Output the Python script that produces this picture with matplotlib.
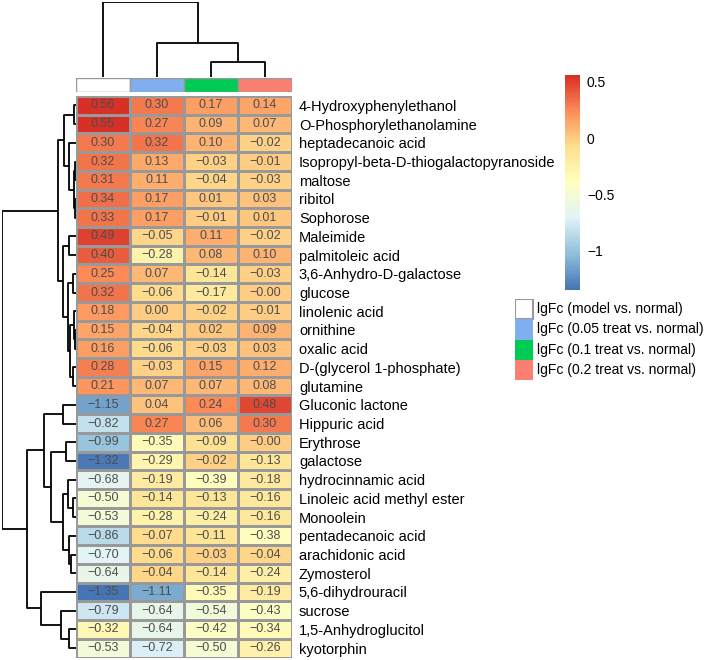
import numpy as np
import matplotlib
matplotlib.use("Agg")
import matplotlib.pyplot as plt
from matplotlib.colors import LinearSegmentedColormap, Normalize
from matplotlib.patches import Rectangle

plt.rcParams['font.family'] = ['Liberation Sans', 'DejaVu Sans']

metabolites = ["4-Hydroxyphenylethanol", "O-Phosphorylethanolamine", "heptadecanoic acid",
               "Isopropyl-beta-D-thiogalactopyranoside", "maltose", "ribitol", "Sophorose",
               "Maleimide", "palmitoleic acid", "3,6-Anhydro-D-galactose", "glucose",
               "linolenic acid", "ornithine", "oxalic acid", "D-(glycerol 1-phosphate)",
               "glutamine", "Gluconic lactone", "Hippuric acid", "Erythrose", "galactose",
               "hydrocinnamic acid", "Linoleic acid methyl ester", "Monoolein",
               "pentadecanoic acid", "arachidonic acid", "Zymosterol", "5,6-dihydrouracil",
               "sucrose", "1,5-Anhydroglucitol", "kyotorphin"]

groups = ["lgFc (model vs. normal)", "lgFc (0.05 treat vs. normal)",
          "lgFc (0.1 treat vs. normal)", "lgFc (0.2 treat vs. normal)"]
group_colors = ["#FFFFFF", "#7FAFEF", "#00CC55", "#FA8072"]

model = [0.56, 0.55, 0.30, 0.32, 0.31, 0.34, 0.33, 0.49, 0.40, 0.25, 0.32, 0.18, 0.15, 0.16, 0.28,
         0.21, -1.15, -0.82, -0.99, -1.32, -0.68, -0.50, -0.53, -0.86, -0.70, -0.64, -1.35, -0.79,
         -0.32, -0.53]
treat_005 = [0.30, 0.27, 0.32, 0.13, 0.11, 0.17, 0.17, -0.05, -0.28, 0.07, -0.06, 0.00, -0.04, -0.06,
             -0.03, 0.07, 0.04, 0.27, -0.35, -0.29, -0.19, -0.14, -0.28, -0.07, -0.06, -0.04, -1.11,
             -0.64, -0.64, -0.72]
treat_01 = [0.17, 0.09, 0.10, -0.03, -0.04, 0.01, -0.01, 0.11, 0.08, -0.14, -0.17, -0.02, 0.02, -0.03,
            0.15, 0.07, 0.24, 0.06, -0.09, -0.02, -0.39, -0.13, -0.24, -0.11, -0.03, -0.14, -0.35,
            -0.54, -0.42, -0.50]
treat_02 = [0.14, 0.07, -0.02, -0.01, -0.03, 0.03, 0.01, -0.02, 0.10, -0.03, -0.0, -0.01, 0.09, 0.03,
            0.12, 0.08, 0.48, 0.30, -0.0, -0.13, -0.18, -0.16, -0.16, -0.38, -0.04, -0.24, -0.19,
            -0.43, -0.34, -0.26]

# row tree: (name, left, right, height as fraction of root)
row_tree = [
    ("r01", 0, 1, 0.032),
    ("r34", 3, 4, 0.010),
    ("r56", 5, 6, 0.010),
    ("r3_6", "r34", "r56", 0.023),
    ("r2_6", 2, "r3_6", 0.092),
    ("r0_6", "r01", "r2_6", 0.160),
    ("r78", 7, 8, 0.092),
    ("r9_10", 9, 10, 0.045),
    ("r12_13", 12, 13, 0.014),
    ("r11_13", 11, "r12_13", 0.023),
    ("r14_15", 14, 15, 0.045),
    ("r11_15", "r11_13", "r14_15", 0.086),
    ("r9_15", "r9_10", "r11_15", 0.114),
    ("r7_15", "r78", "r9_15", 0.182),
    ("top", "r0_6", "r7_15", 0.250),
    ("r16_17", 16, 17, 0.182),
    ("r18_19", 18, 19, 0.137),
    ("r21_22", 21, 22, 0.045),
    ("r20_22", 20, "r21_22", 0.114),
    ("r24_25", 24, 25, 0.068),
    ("r23_25", 23, "r24_25", 0.092),
    ("r20_25", "r20_22", "r23_25", 0.171),
    ("r18_25", "r18_19", "r20_25", 0.342),
    ("r16_25", "r16_17", "r18_25", 0.434),
    ("r28_29", 28, 29, 0.092),
    ("r27_29", 27, "r28_29", 0.205),
    ("r26_29", 26, "r27_29", 0.479),
    ("bottom", "r16_25", "r26_29", 0.662),
    ("root", "top", "bottom", 1.0),
]

data = np.array([model, treat_005, treat_01, treat_02]).T
nrow, ncol = data.shape


def complete_linkage(X):
    # complete linkage on euclidean distance, used for the columns
    d = np.sqrt(((X[:, None, :] - X[None, :, :]) ** 2).sum(-1))
    members = {i: [i] for i in range(len(X))}
    merges = []
    next_id = len(X)
    while len(members) > 1:
        keys = list(members.keys())
        best = None
        for a in range(len(keys)):
            for b in range(a + 1, len(keys)):
                h = d[np.ix_(members[keys[a]], members[keys[b]])].max()
                if best is None or h < best[0]:
                    best = (h, keys[a], keys[b])
        h, ka, kb = best
        merges.append((next_id, ka, kb, h))
        members[next_id] = members.pop(ka) + members.pop(kb)
        next_id += 1
    return merges


def draw_dendro(ax, merges, n, vertical):
    pos = {i: i + 0.5 for i in range(n)}
    hgt = {i: 0.0 for i in range(n)}
    for new, a, b, h in merges:
        pa, pb = pos[a], pos[b]
        xs = [hgt[a], h, h, hgt[b]]
        ys = [pa, pa, pb, pb]
        if vertical:
            ax.plot(ys, xs, color="black", lw=1.3, solid_capstyle="butt")
        else:
            ax.plot(xs, ys, color="black", lw=1.3, solid_capstyle="butt")
        pos[new] = (pa + pb) / 2
        hgt[new] = h
    return max(hgt.values())


W, H = 709, 660
fig = plt.figure(figsize=(W / 100, H / 100), dpi=100)


def px_axes(x0, y0, x1, y1):
    return fig.add_axes([x0 / W, 1 - y1 / H, (x1 - x0) / W, (y1 - y0) / H])


pal = ["#4575B4", "#91BFDB", "#E0F3F8", "#FFFFBF", "#FEE090", "#FC8D59", "#D73027"]
cmap = LinearSegmentedColormap.from_list("rdylbu", pal, N=100)
norm = Normalize(vmin=data.min(), vmax=data.max())

hx0, hx1, hy0, hy1 = 76, 292, 96, 657.5

# heatmap
ax = px_axes(hx0, hy0, hx1, hy1)
mesh = ax.pcolormesh(data, cmap=cmap, norm=norm, edgecolors="#999999", linewidth=1.0)
ax.set_xlim(0, ncol)
ax.set_ylim(nrow, 0)
for i in range(nrow):
    for j in range(ncol):
        ax.text(j + 0.5, i + 0.5, ("%.2f" % data[i, j]).replace("-", "\u2212"),
                ha="center", va="center", fontsize=9, color="#4D4D4D")
ax.set_xticks([])
ax.set_yticks(np.arange(nrow) + 0.5)
ax.set_yticklabels(metabolites, fontsize=10.5)
ax.yaxis.tick_right()
ax.tick_params(axis="y", length=0, pad=5)
for s in ax.spines.values():
    s.set_visible(False)

# annotation bar
ann = px_axes(hx0, 78, hx1, 92)
for j in range(ncol):
    ann.add_patch(Rectangle((j, 0), 1, 1, facecolor=group_colors[j], edgecolor="#999999", lw=1.0))
ann.set_xlim(0, ncol)
ann.set_ylim(0, 1)
ann.axis("off")

# column dendrogram
cax_d = px_axes(hx0, 2, hx1, 77)
cmerge = complete_linkage(data.T)
hmax = draw_dendro(cax_d, cmerge, ncol, vertical=True)
cax_d.set_xlim(0, ncol)
cax_d.set_ylim(0, hmax)
cax_d.axis("off")

# row dendrogram
rax = px_axes(2, hy0, 76, hy1)
draw_dendro(rax, row_tree, nrow, vertical=False)
rax.set_xlim(1.0, 0)
rax.set_ylim(nrow, 0)
rax.axis("off")

# colour key
kax = px_axes(565, 75, 580, 290)
cb = fig.colorbar(mesh, cax=kax)
cb.set_ticks([-1, -0.5, 0, 0.5])
cb.set_ticklabels(["\u22121", "\u22120.5", "0", "0.5"])
cb.ax.tick_params(length=0, labelsize=10, pad=5)
cb.outline.set_visible(False)

# annotation legend
lax = px_axes(515, 299, 709, 380)
lax.set_xlim(0, 194)
lax.set_ylim(80, 0)
for k, (lab, col) in enumerate(zip(groups, group_colors)):
    lax.add_patch(Rectangle((0, k * 20), 18, 20, facecolor=col,
                            edgecolor="#999999" if k == 0 else col, lw=1.5 if k == 0 else 0))
    lax.text(22, k * 20 + 10, lab, va="center", ha="left", fontsize=10)
lax.axis("off")

fig.savefig("out.png", dpi=100)
